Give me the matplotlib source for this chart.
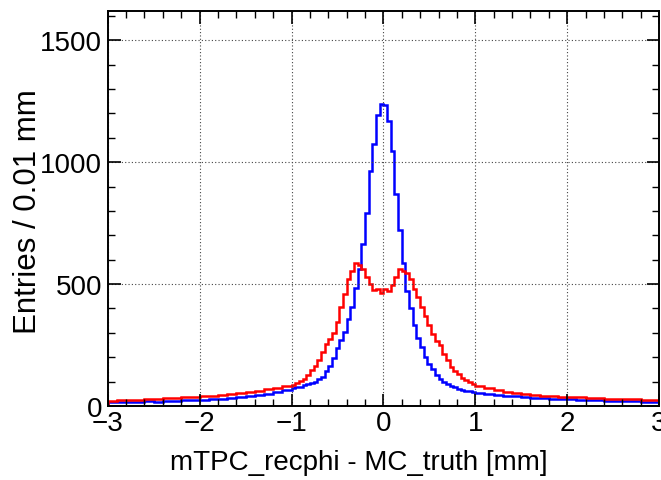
import numpy as np
import matplotlib
matplotlib.use("Agg")
import matplotlib.pyplot as plt
from matplotlib.ticker import MultipleLocator

plt.rcParams['font.family'] = ['Liberation Sans', 'DejaVu Sans']

# bin edges: coarse tails, fine core (values are entries / 0.01 mm)
edges = np.concatenate([np.linspace(-3, -1, 21)[:-1],
                        np.linspace(-1, 1, 51)[:-1],
                        np.linspace(1, 3, 21)])

blue_left_tail = [15, 17, 16, 18, 19, 18, 21, 22, 23, 25, 26, 29, 30, 34, 36, 41, 44, 50, 57, 66]
blue_core = [72, 76, 79, 85, 88, 94, 99, 110, 120, 142, 163, 198, 236, 272, 305, 355, 405, 485, 560, 665,
             790, 965, 1075, 1195, 1240, 1235, 1170, 1045, 870, 720, 585, 470, 400, 330, 280, 240, 200, 172,
             150, 126, 110, 98, 88, 80, 76, 70, 66, 62, 60, 56]
blue_right_tail = [55, 50, 46, 42, 40, 36, 34, 33, 30, 29, 27, 26, 25, 23, 22, 21, 20, 19, 18, 17]

red_left_tail = [22, 24, 25, 26, 28, 29, 31, 33, 35, 37, 39, 42, 45, 49, 53, 57, 62, 68, 74, 80]
red_core = [85, 92, 102, 112, 125, 148, 165, 190, 220, 255, 275, 300, 345, 405, 460, 520, 555, 585, 580, 560,
            530, 500, 475, 480, 465, 480, 470, 495, 530, 560, 555, 545, 520, 480, 445, 405, 370, 330, 295, 265,
            250, 215, 190, 160, 145, 130, 115, 105, 98, 88]
red_right_tail = [80, 72, 65, 58, 52, 48, 45, 42, 40, 38, 36, 35, 33, 32, 30, 29, 28, 27, 26, 25]

blue = np.array(blue_left_tail + blue_core + blue_right_tail)
red = np.array(red_left_tail + red_core + red_right_tail)

fig = plt.figure(figsize=(6.61, 4.81), dpi=100)
ax = fig.add_axes([0.163, 0.154, 0.834, 0.821])

ax.stairs(blue, edges, color='#0000ff', lw=1.8)
ax.stairs(red, edges, color='#ff0000', lw=1.8)

ax.set_xlim(-3, 3)
ax.set_ylim(0, 1620)
ax.xaxis.set_major_locator(MultipleLocator(1))
ax.xaxis.set_minor_locator(MultipleLocator(0.2))
ax.yaxis.set_major_locator(MultipleLocator(500))
ax.yaxis.set_minor_locator(MultipleLocator(100))
ax.tick_params(which='both', direction='in', top=True, right=True, labelsize=20)
ax.tick_params(which='major', length=9, width=1.2)
ax.tick_params(which='minor', length=5, width=1.0)
ax.tick_params(axis='x', pad=3)
ax.tick_params(axis='y', pad=4)
for s in ax.spines.values():
    s.set_linewidth(1.4)
ax.grid(True, which='major', color='#444444', linestyle=(0, (1, 2)), lw=0.8)

ax.set_xlabel('mTPC_recphi - MC_truth [mm]', fontsize=20)
ax.xaxis.set_label_coords(0.455, -0.11)
ax.set_ylabel('Entries / 0.01 mm', fontsize=22.5)
ax.yaxis.set_label_coords(-0.118, 0.494)

fig.canvas.draw()
ylabs = ax.get_yticklabels()
ylabs[0].set_verticalalignment('bottom')

fig.savefig('out.png', dpi=100)
